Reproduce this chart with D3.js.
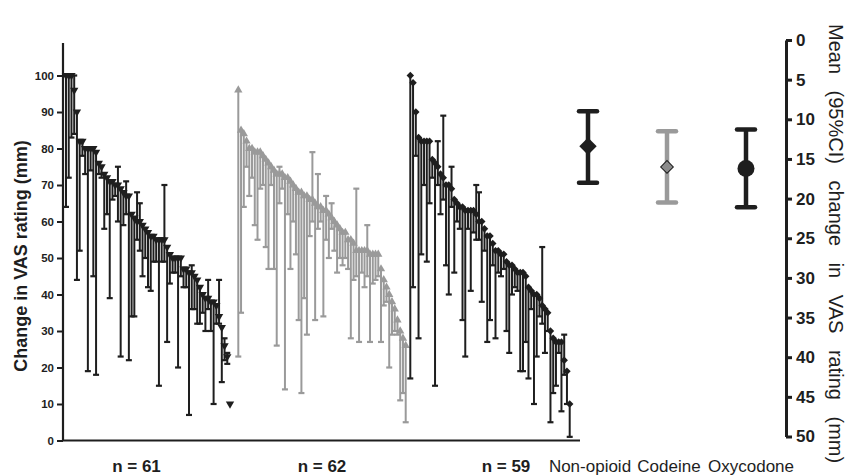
<!DOCTYPE html>
<html>
<head>
<meta charset="utf-8">
<script src="https://cdn.jsdelivr.net/npm/d3@7"></script>
<style>
body { margin: 0; background: #ffffff; }
svg { display: block; font-family: Arial, "Liberation Sans", sans-serif; }
</style>
</head>
<body>
<div id="chart"></div>
<script>
// per-patient change in VAS rating (mm): marker, lower end, upper end
const nonOpioidMean = [100,100,100,96,90,82,82,80,80,80,80,79,76,75,73,72,71,71,70,70,69,68,67,67,62,61,60,60,59,58,57,56,56,55,55,55,55,53,51,50,50,50,50,47,47,46,46,45,44,42,40,39,39,38,38,37,34,31,26,23,10];
const nonOpioidLo = [64,72,83,84,44,52,78,73,19,74,45,18,73,72,58,62,39,66,67,60,23,59,62,22,34,34,55,52,45,50,42,41,49,49,15,49,49,27,43,46,46,20,45,42,42,7,36,36,32,32,35,30,36,30,10,32,32,16,22,21,10];
const nonOpioidHi = [100,100,100,100,90,82,82,80,80,80,80,79,76,75,73,72,71,71,70,75,69,68,71,67,62,61,68,65,59,58,57,56,56,55,55,55,70,53,51,50,50,50,50,47,47,46,48,45,44,42,40,39,44,38,38,37,44,31,28,24,10];

const codeineMean = [96,85,84,82,80,80,79,79,79,78,77,76,75,74,73,73,73,72,72,71,70,69,68,68,67,67,66,66,65,64,64,63,63,62,61,60,59,58,57,57,55,55,54,52,52,52,52,52,51,51,51,51,47,44,42,40,38,36,33,30,28,26];
const codeineLo = [23,35,64,75,67,72,59,55,69,70,53,47,70,47,26,65,69,14,62,47,60,51,33,13,39,29,56,60,33,58,60,34,55,50,58,52,46,50,48,50,47,28,44,45,27,46,42,45,27,43,44,45,27,37,38,20,29,30,29,11,13,5];
const codeineHi = [96,85,84,82,80,80,79,79,79,78,77,76,75,74,73,75,73,72,72,71,70,69,68,68,67,67,66,79,65,73,64,63,67,62,65,60,59,58,57,57,55,55,54,69,52,52,52,59,51,51,51,51,47,44,42,40,38,36,33,30,28,26];

const oxycodoneMean = [100,98,90,83,82,82,82,82,77,76,75,73,72,70,70,69,66,65,64,64,63,63,63,63,62,60,60,58,56,56,54,52,52,51,51,49,48,48,47,46,46,46,45,42,41,40,40,39,37,36,35,30,28,27,27,27,22,19,10];
const oxycodoneLo = [17,42,78,28,51,70,49,65,72,15,70,62,66,48,40,64,46,60,58,33,23,58,41,57,55,55,38,52,27,33,48,28,46,45,47,30,24,40,42,41,19,19,27,17,36,10,23,34,32,24,30,5,13,15,24,8,18,10,1];
const oxycodoneHi = [100,98,90,83,82,82,82,82,77,76,82,73,89,70,70,75,66,65,64,64,63,63,63,63,70,68,60,58,56,56,54,52,52,51,51,49,48,48,47,46,46,46,45,42,41,40,40,39,53,36,35,30,28,27,27,27,29,19,10];

const groupLabels = ["n = 61", "n = 62", "n = 59"];

// mean (95%CI) change per group
const summaryLabels = ["Non-opioid", "Codeine", "Oxycodone"];
const summaryMean = [13.4, 16.0, 16.2];
const summaryLo = [9.0, 11.5, 11.3];
const summaryHi = [18.0, 20.5, 21.1];

const leftTicks = [0,10,20,30,40,50,60,70,80,90,100];
const rightTicks = [0,5,10,15,20,25,30,35,40,45,50];

const colBlack = "#1e1e1e";
const colGray = "#9a9a9a";

const svg = d3.select("#chart").append("svg")
    .attr("width", 850)
    .attr("height", 476);

const yLeft = d3.scaleLinear().domain([0, 100]).range([440.5, 75.5]);
const yRight = d3.scaleLinear().domain([0, 50]).range([40, 436.5]);

// left axis
const gLeft = svg.append("g")
    .attr("transform", "translate(63,0)")
    .call(d3.axisLeft(yLeft).tickValues(leftTicks).tickSize(6).tickSizeOuter(0).tickPadding(3));
gLeft.select(".domain").remove();
gLeft.selectAll(".tick line").attr("stroke", colBlack).attr("stroke-width", 2);
gLeft.selectAll(".tick text")
    .style("font-size", "11.5px")
    .style("font-weight", "bold")
    .attr("fill", colBlack);
gLeft.append("line")
    .attr("x1", 0).attr("x2", 0)
    .attr("y1", 43).attr("y2", yLeft(0))
    .attr("stroke", colBlack)
    .attr("stroke-width", 2.2);

svg.append("line")
    .attr("x1", 62).attr("x2", 580)
    .attr("y1", yLeft(0)).attr("y2", yLeft(0))
    .attr("stroke", colBlack)
    .attr("stroke-width", 2.2);

svg.append("text")
    .attr("transform", "translate(27,256) rotate(-90)")
    .attr("text-anchor", "middle")
    .style("font-size", "18px")
    .style("font-weight", "bold")
    .attr("fill", colBlack)
    .text("Change in VAS rating (mm)");

function fn_drawGroup(mean, lo, hi, x0, x1, color, symbol, angle, symSize) {
    const xs = d3.scaleLinear().domain([0, mean.length - 1]).range([x0, x1]);
    const g = svg.append("g");
    const idx = d3.range(mean.length);
    g.selectAll("line.bar").data(idx).join("line")
        .attr("class", "bar")
        .attr("x1", i => xs(i)).attr("x2", i => xs(i))
        .attr("y1", i => yLeft(lo[i])).attr("y2", i => yLeft(hi[i]))
        .attr("stroke", color)
        .attr("stroke-width", 2);
    g.selectAll("line.capLo").data(idx.filter(i => lo[i] < mean[i])).join("line")
        .attr("class", "capLo")
        .attr("x1", i => xs(i) - 3).attr("x2", i => xs(i) + 3)
        .attr("y1", i => yLeft(lo[i])).attr("y2", i => yLeft(lo[i]))
        .attr("stroke", color)
        .attr("stroke-width", 2.2);
    g.selectAll("line.capHi").data(idx.filter(i => hi[i] > mean[i])).join("line")
        .attr("class", "capHi")
        .attr("x1", i => xs(i) - 3).attr("x2", i => xs(i) + 3)
        .attr("y1", i => yLeft(hi[i])).attr("y2", i => yLeft(hi[i]))
        .attr("stroke", color)
        .attr("stroke-width", 2.2);
    g.selectAll("path.mark").data(idx).join("path")
        .attr("class", "mark")
        .attr("d", d3.symbol().type(symbol).size(symSize))
        .attr("transform", i => "translate(" + xs(i) + "," + yLeft(mean[i]) + ") rotate(" + angle + ")")
        .attr("fill", color);
    return xs;
}

fn_drawGroup(nonOpioidMean, nonOpioidLo, nonOpioidHi, 66, 230, colBlack, d3.symbolTriangle, 180, 30);
fn_drawGroup(codeineMean, codeineLo, codeineHi, 238.3, 405.7, colGray, d3.symbolTriangle, 0, 30);
fn_drawGroup(oxycodoneMean, oxycodoneLo, oxycodoneHi, 410.3, 569.7, colBlack, d3.symbolSquare, 45, 28);

const groupX = [136.5, 322, 506];
svg.selectAll("text.nlab").data(groupLabels).join("text")
    .attr("class", "nlab")
    .attr("x", (d, i) => groupX[i])
    .attr("y", 472)
    .attr("text-anchor", "middle")
    .style("font-size", "17px")
    .style("font-weight", "bold")
    .attr("fill", colBlack)
    .text(d => d);

// right panel: means with 95%CI
const xSum = d3.scalePoint().domain(summaryLabels).range([588, 746]);
const sumColor = [colBlack, colGray, colBlack];
const gSum = svg.append("g");
summaryLabels.forEach((lab, i) => {
    const cx = xSum(lab);
    gSum.append("line")
        .attr("x1", cx).attr("x2", cx)
        .attr("y1", yRight(summaryLo[i])).attr("y2", yRight(summaryHi[i]))
        .attr("stroke", sumColor[i])
        .attr("stroke-width", 4.5);
    [summaryLo[i], summaryHi[i]].forEach(v => {
        gSum.append("line")
            .attr("x1", cx - 9).attr("x2", cx + 9)
            .attr("y1", yRight(v)).attr("y2", yRight(v))
            .attr("stroke", sumColor[i])
            .attr("stroke-width", 4.5)
            .attr("stroke-linecap", "round");
    });
});
gSum.append("path")
    .attr("d", d3.symbol().type(d3.symbolSquare).size(150))
    .attr("transform", "translate(" + xSum("Non-opioid") + "," + yRight(summaryMean[0]) + ") rotate(45)")
    .attr("fill", colBlack);
gSum.append("path")
    .attr("d", d3.symbol().type(d3.symbolSquare).size(80))
    .attr("transform", "translate(" + xSum("Codeine") + "," + yRight(summaryMean[1]) + ") rotate(45)")
    .attr("fill", "#8c8c8c")
    .attr("stroke", colBlack)
    .attr("stroke-width", 1);
gSum.append("circle")
    .attr("cx", xSum("Oxycodone"))
    .attr("cy", yRight(summaryMean[2]))
    .attr("r", 8.5)
    .attr("fill", colBlack);

const labShift = [2, 2, 5];
svg.selectAll("text.slab").data(summaryLabels).join("text")
    .attr("class", "slab")
    .attr("x", (d, i) => xSum(d) + labShift[i])
    .attr("y", 472)
    .attr("text-anchor", "middle")
    .style("font-size", "17px")
    .attr("fill", colBlack)
    .text(d => d);

// right axis
const gRight = svg.append("g")
    .attr("transform", "translate(786,0)")
    .call(d3.axisRight(yRight).tickValues(rightTicks).tickSize(6).tickSizeOuter(0).tickPadding(4));
gRight.select(".domain").attr("stroke", colBlack).attr("stroke-width", 3);
gRight.selectAll(".tick line").attr("stroke", colBlack).attr("stroke-width", 3);
gRight.selectAll(".tick text")
    .style("font-size", "17px")
    .style("font-weight", "bold")
    .attr("fill", colBlack);

svg.append("text")
    .attr("transform", "translate(829,24) rotate(90)")
    .attr("text-anchor", "start")
    .style("font-size", "20px")
    .style("word-spacing", "11px")
    .attr("fill", colBlack)
    .text("Mean (95%CI) change in VAS rating (mm)");
</script>
</body>
</html>
